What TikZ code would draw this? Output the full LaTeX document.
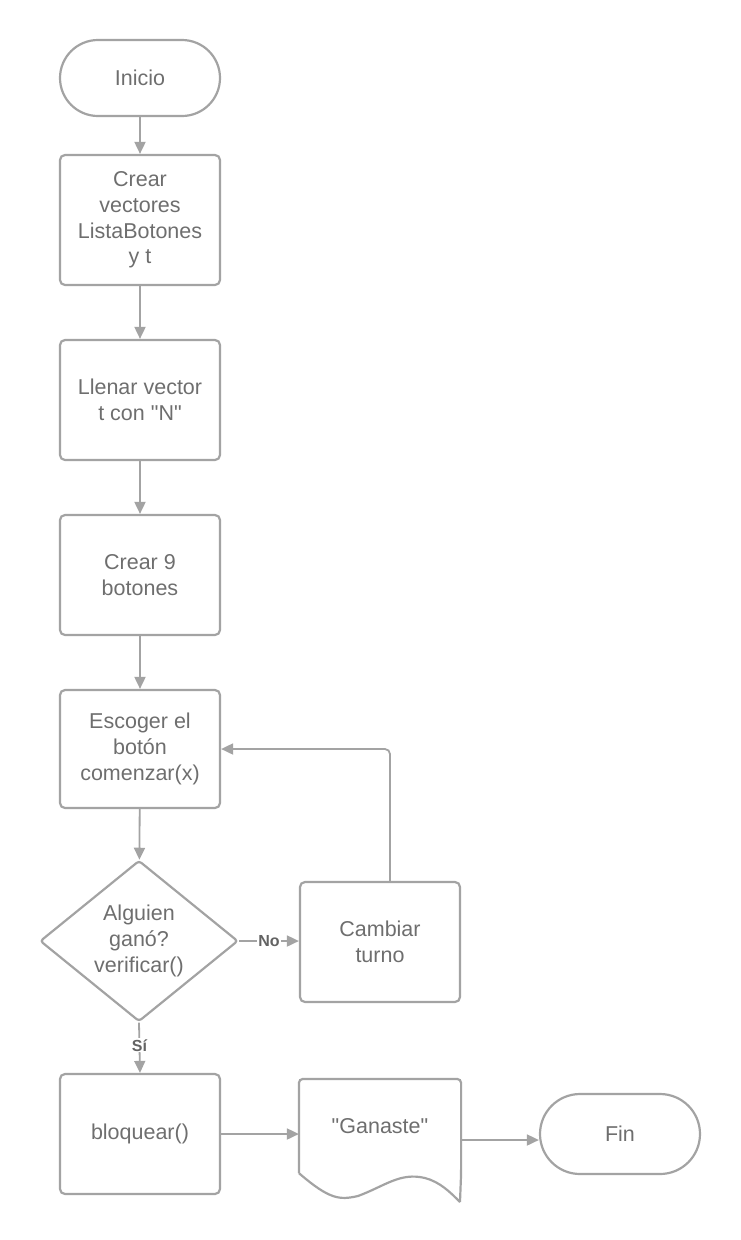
\documentclass[tikz,border=0pt]{standalone}
\usepackage{fontspec}
\setmainfont{Liberation Sans}[Ligatures=TeXOff]
\usetikzlibrary{shapes.geometric,arrows.meta,calc}
\definecolor{ln}{HTML}{A3A3A3}
\definecolor{tx}{HTML}{6E6E6E}
\tikzset{
  base/.style={draw=ln, line width=2.2pt, text=tx, align=center, font=\fontsize{21.5}{25.7}\selectfont, inner sep=0pt},
  procbox/.style={base, rounded corners=5pt, minimum width=160pt},
  term/.style={base, rounded corners=38pt, minimum width=160pt, minimum height=76pt},
  decis/.style={base, diamond, rounded corners=3pt, minimum width=198pt, minimum height=152pt},
  conn/.style={draw=ln, line width=1.8pt, -{Triangle[length=12pt,width=11pt]}},
  lbl/.style={fill=white, text=tx!90!black, font=\bfseries\fontsize{16}{18}\selectfont, inner sep=1pt}
}
\begin{document}
\begin{tikzpicture}[x=1pt,y=-1pt]
\useasboundingbox (0,0) rectangle (740,1240);
\node[term] (ini) at (140,78) {Inicio};
\node[procbox, minimum height=130pt] (b1) at (140,220) {Crear\\vectores\\ListaBotones\\y t};
\node[procbox, minimum height=120pt] (b2) at (140,400) {Llenar vector\\t con "N"};
\node[procbox, minimum height=120pt] (b3) at (140,575) {Crear 9\\botones};
\node[procbox, minimum height=118pt] (b4) at (140,749) {Escoger el\\botón\\comenzar(x)};
\node[decis] (d) at (139,941) {Alguien\\ganó?\\verificar()};
\node[procbox, minimum height=120pt] (ct) at (380,942) {Cambiar\\turno};
\node[procbox, minimum height=120pt] (bl) at (140,1134) {bloquear()};
\node[base, draw=none, minimum width=160pt, minimum height=92pt] (doc) at (380,1126) {"Ganaste"};
\draw[ln, line width=2.2pt, rounded corners=4pt] (doc.south west) -- (doc.north west) -- (doc.north east) -- ([yshift=-0pt]doc.south east) [sharp corners] -- (460,1202);
\draw[ln, line width=2.2pt] (doc.south west) .. controls (330,1200) and (340,1200) .. (358,1196) .. controls (385,1186) and (400,1172) .. (425,1178) .. controls (440,1182) and (450,1192) .. (460,1202);
\node[term, minimum height=80pt, rounded corners=40pt] (fin) at (620,1134) {Fin};

\draw[conn] (ini) -- (b1);
\draw[conn] (b1) -- (b2);
\draw[conn] (b2) -- (b3);
\draw[conn] (b3) -- (b4);
\draw[conn] (b4) -- (d);
\draw[conn] (d.east) -- node[lbl] {No} (ct.west |- d.east);
\draw[conn, rounded corners=5pt] (ct.north -| 390,0) -- (390,749) -- (b4.east);
\draw[conn] (d.south) -- node[lbl, pos=0.45] {Sí} (bl.north);
\draw[conn] (bl.east) -- (bl.east -| doc.west);
\coordinate (de) at ($(doc.east)+(0,14)$);
\draw[conn] (de) -- (de -| fin.west);
\end{tikzpicture}
\end{document}
